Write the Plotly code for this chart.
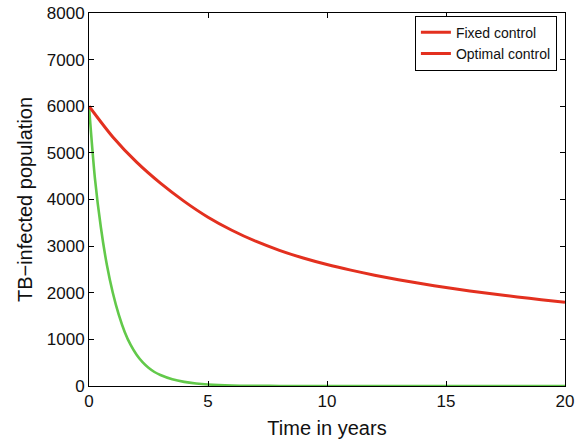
import plotly.graph_objects as go

# Data
t_fixed = list(range(0, 21))
fixed_vals = [6000, 5340, 4800, 4350, 3960, 3620, 3340, 3105, 2910, 2745,
              2605, 2485, 2377, 2280, 2192, 2112, 2039, 1972, 1910, 1852, 1798]

t_opt = [0, 0.25, 0.5, 0.75, 1.0, 1.25, 1.5, 1.75, 2.0, 2.25, 2.5, 2.75, 3.0,
         3.5, 4.0, 4.5, 5.0, 6.0, 7.0, 8.0, 10.0, 12.0, 15.0, 20.0]
opt_vals = [6000, 4450, 3400, 2600, 2000, 1530, 1160, 880, 670, 510, 390, 300, 235,
            144, 88, 54, 33, 12, 4.5, 1.5, 0, 0, 0, 0]

x_ticks = [0, 5, 10, 15, 20]
y_ticks = [0, 1000, 2000, 3000, 4000, 5000, 6000, 7000, 8000]

RED = "#e3301f"
GREEN = "#62c94a"

fig = go.Figure()
fig.add_trace(go.Scatter(x=t_opt, y=opt_vals, mode="lines", name="Optimal control",
                         line=dict(color=GREEN, width=2.6, shape="spline", smoothing=0.8),
                         showlegend=False))
fig.add_trace(go.Scatter(x=t_fixed, y=fixed_vals, mode="lines", name="Fixed control",
                         line=dict(color=RED, width=3, shape="spline", smoothing=0.8)))
# legend entry as in the reference (drawn red)
fig.add_trace(go.Scatter(x=[None], y=[None], mode="lines", name="Optimal control",
                         line=dict(color=RED, width=3)))

axis_common = dict(showline=True, linecolor="black", linewidth=1, mirror="ticks",
                   ticks="inside", ticklen=5, tickcolor="black", showgrid=False,
                   zeroline=False, automargin=False,
                   tickfont=dict(size=17, color="#111"))

fig.update_xaxes(range=[0, 20], tickvals=x_ticks,
                 title=dict(text="Time in years", font=dict(size=20, color="#111"), standoff=10),
                 **axis_common)
fig.update_yaxes(range=[0, 8000], tickvals=y_ticks,
                 title=dict(text="TB\u2212infected population", font=dict(size=20, color="#111"), standoff=8),
                 **axis_common)

fig.update_layout(
    width=579, height=443,
    margin=dict(l=89, r=14, t=13, b=57),
    paper_bgcolor="white", plot_bgcolor="white",
    font=dict(family="Liberation Sans, Arial, sans-serif", color="#111"),
    legend=dict(x=0.983, y=0.993, xanchor="right", yanchor="top",
                bordercolor="black", borderwidth=1, bgcolor="white",
                font=dict(size=14), tracegroupgap=0, itemwidth=30),
)

fig.write_html("out.html")
